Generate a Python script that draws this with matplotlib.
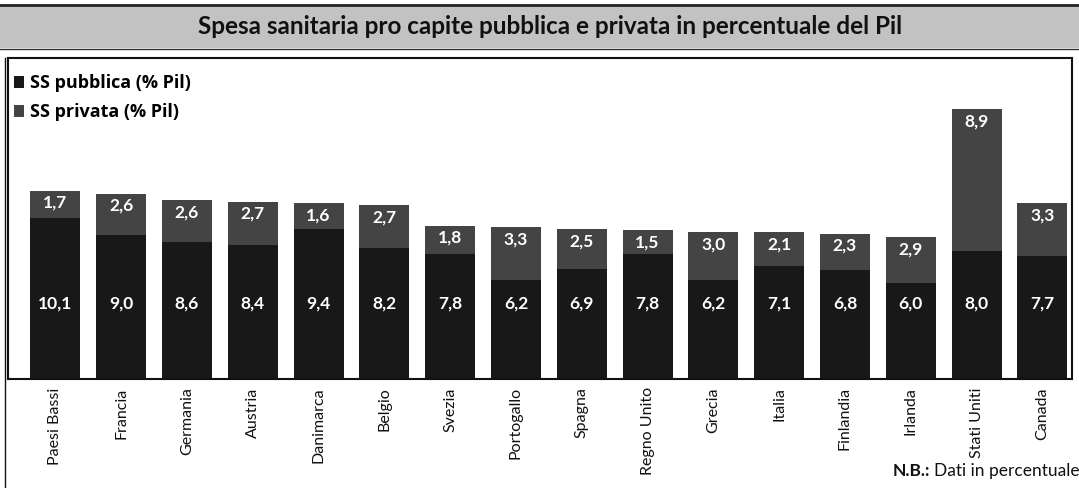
import matplotlib.pyplot as plt
from matplotlib.patches import Rectangle, Patch
from matplotlib.lines import Line2D

# Dati (% del Pil)
paesi = ['Paesi Bassi', 'Francia', 'Germania', 'Austria', 'Danimarca', 'Belgio',
         'Svezia', 'Portogallo', 'Spagna', 'Regno Unito', 'Grecia', 'Italia',
         'Finlandia', 'Irlanda', 'Stati Uniti', 'Canada']
ss_pubblica = [10.1, 9.0, 8.6, 8.4, 9.4, 8.2, 7.8, 6.2, 6.9, 7.8, 6.2, 7.1, 6.8, 6.0, 8.0, 7.7]
ss_privata = [1.7, 2.6, 2.6, 2.7, 1.6, 2.7, 1.8, 3.3, 2.5, 1.5, 3.0, 2.1, 2.3, 2.9, 8.9, 3.3]

col_pub = '#181818'
col_priv = '#444444'
W, H = 1079, 488

plt.rcParams['font.family'] = ['Lato', 'DejaVu Sans']

fig = plt.figure(figsize=(W / 100, H / 100), dpi=100)

# Fascia del titolo
fig.patches.append(Rectangle((0, 1 - 48 / H), 1, 43 / H, transform=fig.transFigure,
                             facecolor='#c2c2c2', edgecolor='none', zorder=0))
fig.lines.append(Line2D([0, 1], [1 - 5 / H, 1 - 5 / H], transform=fig.transFigure,
                        color='#222222', linewidth=2))
fig.lines.append(Line2D([0, 1], [1 - 49 / H, 1 - 49 / H], transform=fig.transFigure,
                        color='#333333', linewidth=1))
fig.text(0.51, 1 - 27 / H, 'Spesa sanitaria pro capite pubblica e privata in percentuale del Pil',
         ha='center', va='center', fontsize=17.5, fontweight='bold', color='#111111')

# Area del grafico
ax = fig.add_axes([8 / W, 1 - 379 / H, (1072 - 8) / W, (379 - 58) / H])
x = range(len(paesi))
ax.bar(x, ss_pubblica, width=0.76, color=col_pub)
ax.bar(x, ss_privata, width=0.76, bottom=ss_pubblica, color=col_priv)

for i in x:
    ax.text(i, 4.75, f'{ss_pubblica[i]:.1f}'.replace('.', ','), ha='center', va='center',
            color='white', fontsize=12.5, fontweight='bold')
    ax.annotate(f'{ss_privata[i]:.1f}'.replace('.', ','), (i, ss_pubblica[i] + ss_privata[i]),
                xytext=(0, -3), textcoords='offset points', ha='center', va='top',
                color='white', fontsize=12.5, fontweight='bold')

ax.set_xlim(-0.72, 15.45)
ax.set_ylim(0, 20.1)
ax.set_yticks([])
ax.set_xticks(list(x))
ax.set_xticklabels(paesi, rotation=90, va='top', fontsize=11.5, color='#111111')
ax.tick_params(axis='x', length=0, pad=6)
for s in ax.spines.values():
    s.set_linewidth(1.5)
    s.set_color('#111111')

handles = [Patch(facecolor=col_pub, label='SS pubblica (% Pil)'),
           Patch(facecolor=col_priv, label='SS privata (% Pil)')]
ax.legend(handles=handles, loc='upper left', frameon=False, handlelength=0.55,
          handleheight=0.7, handletextpad=0.35, labelspacing=0.6, borderpad=0.1,
          prop={'family': 'Open Sans', 'weight': 'bold', 'size': 13},
          bbox_to_anchor=(0.002, 0.96), borderaxespad=0.1)

# Doppia linea a sinistra fino in fondo
fig.lines.append(Line2D([5 / W, 5 / W], [0, 1 - 58 / H], transform=fig.transFigure,
                        color='#111111', linewidth=1))

# Nota
fig.text(893 / W, 1 - 471 / H, 'N.B.:', ha='left', va='center', fontsize=12.5,
         fontweight='bold', color='#111111')
fig.text(934 / W, 1 - 471 / H, 'Dati in percentuale', ha='left', va='center',
         fontsize=12.5, color='#111111')

fig.savefig('out.png', dpi=100)
